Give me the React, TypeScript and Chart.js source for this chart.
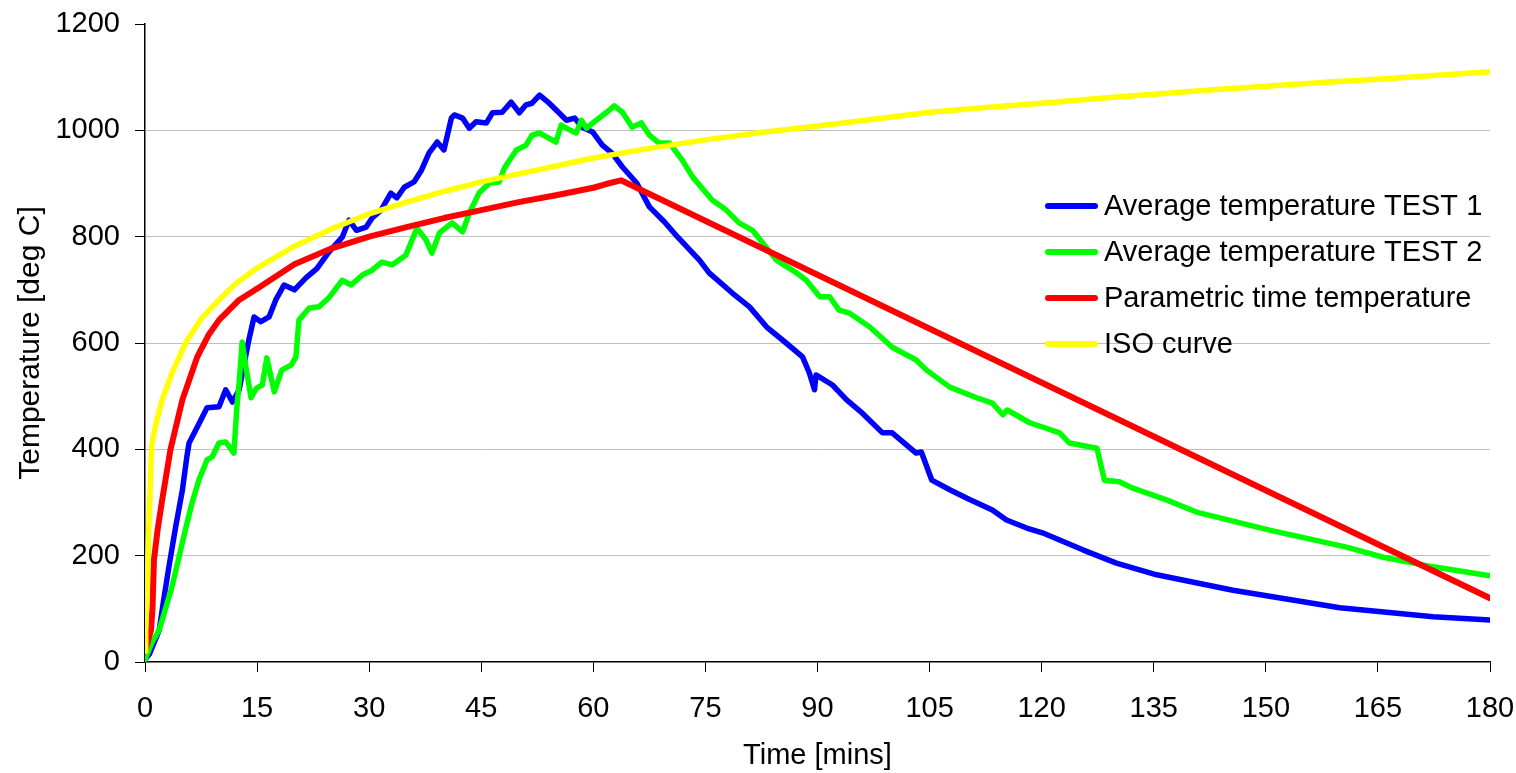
import React, { useEffect, useRef } from "react";
import { Chart, registerables } from "chart.js";

Chart.register(...registerables);

const xTicks = [0, 15, 30, 45, 60, 75, 90, 105, 120, 135, 150, 165, 180];
const yTicks = [0, 200, 400, 600, 800, 1000, 1200];

const seriesLabels = [
  "Average temperature TEST 1",
  "Average temperature TEST 2",
  "Parametric time temperature",
  "ISO curve",
];
const seriesColors = ["#0000ff", "#00ff00", "#ff0000", "#ffff00"];

const test1Time = [
  0, 0.6, 1.2, 1.9, 2.5, 3.2, 4.1, 5.0, 5.6, 5.9, 7.0, 8.3, 9.9, 10.8, 11.7, 12.6, 13.9, 14.6, 15.5, 16.6,
  17.5, 18.6, 20.0, 21.5, 23.0, 24.6, 26.4, 27.3, 28.3, 29.6, 30.4, 31.6, 32.9, 33.7, 34.7, 36.0, 37.0, 38.0,
  39.1, 40.0, 41.0, 41.4, 42.5, 43.4, 44.3, 45.7, 46.5, 47.8, 49.0, 50.1, 51.0, 51.8, 52.8, 54.1, 55.4, 56.4,
  57.5, 58.5, 59.9, 61.2, 62.5, 63.9, 65.8, 67.5, 69.5, 71.3, 74.2, 75.5, 78.6, 80.9, 83.2, 85.8, 88.0, 88.9,
  89.6, 89.8, 92.0, 93.9, 96.0, 98.7, 100.0, 103.2, 103.9, 105.3, 107.7, 110.0, 113.4, 115.3, 118.0, 120.1,
  125.5, 130.0, 135.4, 145.6, 159.9, 172.4, 180.0,
];
const test1Temp = [
  5, 15, 36, 60, 117, 179, 254, 323, 386, 412, 442, 478, 480, 512, 489, 512, 606, 649, 640, 649,
  681, 709, 700, 722, 740, 771, 799, 831, 812, 818, 835, 850, 882, 873, 893, 903, 925, 957,
  978, 963, 1023, 1029, 1023, 1004, 1016, 1014, 1033, 1034, 1053, 1033, 1048, 1051, 1066, 1051, 1033, 1019,
  1023, 1006, 997, 972, 957, 931, 901, 856, 828, 799, 756, 732, 694, 668, 630, 600, 574, 544,
  512, 540, 521, 493, 468, 431, 431, 393, 395, 342, 324, 308, 286, 267, 252, 243,
  211, 186, 164, 135, 102, 85, 79,
];

const test2Time = [
  0, 0.9, 1.9, 3.6, 5.5, 6.3, 7.2, 8.3, 9.0, 9.9, 10.8, 11.9, 12.3, 12.6, 13.0, 13.5, 14.2, 14.9, 15.7, 16.3,
  17.3, 18.3, 19.6, 20.2, 20.6, 22.0, 23.3, 24.6, 26.4, 27.6, 29.1, 30.4, 31.7, 33.1, 34.9, 36.4, 37.6, 38.4,
  39.4, 41.1, 42.5, 43.4, 44.7, 46.1, 47.4, 48.1, 49.7, 51.0, 51.8, 52.8, 54.1, 55.0, 55.7, 56.8, 57.7, 58.4,
  59.1, 60.4, 61.7, 62.8, 63.9, 65.2, 66.4, 67.5, 68.8, 70.2, 71.9, 73.3, 75.9, 77.8, 79.5, 81.3, 84.5, 87.2,
  88.5, 90.3, 91.6, 92.9, 94.3, 97.0, 100.0, 103.2, 104.6, 107.7, 111.3, 113.4, 114.8, 115.4, 118.4, 120.1,
  122.4, 123.7, 127.4, 128.4, 130.4, 132.2, 136.7, 140.7, 150.5, 160.8, 165.7, 172.4, 180.0,
];
const test2Temp = [
  5, 36, 60, 141, 254, 299, 342, 380, 386, 412, 414, 393, 480, 525, 602, 555, 497, 515, 521, 572,
  508, 549, 559, 574, 643, 666, 668, 685, 718, 709, 728, 737, 752, 747, 765, 816, 794, 769,
  807, 826, 809, 844, 882, 901, 903, 929, 963, 972, 991, 995, 985, 978, 1010, 1001, 995, 1019,
  1004, 1019, 1033, 1046, 1034, 1006, 1014, 991, 976, 976, 944, 912, 869, 850, 826, 812, 756, 732,
  718, 687, 687, 662, 656, 630, 592, 568, 549, 517, 497, 487, 465, 474, 450, 442,
  431, 412, 402, 342, 339, 327, 305, 282, 248, 216, 197, 179, 162,
];

const paramTime = [
  0, 0.8, 1.0, 1.2, 1.7, 2.3, 3.4, 5.0, 7.0, 8.5, 9.9, 12.6, 15.3, 20, 25, 30, 35, 40, 45, 50, 55, 60,
  61.7, 63.7, 180,
];
const paramTemp = [
  20, 60, 100, 192, 250, 305, 399, 493, 574, 615, 643, 681, 705, 748, 778, 800, 818, 835, 850, 865, 878, 892,
  899, 906, 120,
];

const isoTime = [
  0, 0.1, 0.5, 0.9, 1.5, 2.3, 3.6, 5.5, 7.6, 9.9, 12, 15, 20, 25, 30, 35, 40, 45, 50, 55, 60, 67.5, 75, 82.5,
  90, 97.5, 105, 112.5, 120, 127.5, 135, 142.5, 150, 157.5, 165, 172.5, 180,
];
const isoTemp = [
  20, 60, 250, 408, 450, 493, 543, 602, 647, 681, 710, 741, 782, 815, 843, 865, 885, 903, 918, 933, 948, 966,
  982, 996, 1008, 1021, 1034, 1043, 1051, 1060, 1068, 1076, 1083, 1090, 1096, 1103, 1110,
];

const FONT = '"Liberation Sans", Arial, sans-serif';

function pts(t: number[], v: number[]) {
  return t.map((x, i) => ({ x, y: v[i] }));
}

const insideLegend = {
  id: "insideLegend",
  afterDraw(chart: any) {
    const ctx = chart.ctx;
    ctx.save();
    ctx.font = `29px ${FONT}`;
    ctx.textBaseline = "middle";
    ctx.textAlign = "left";
    chart.data.datasets.forEach((ds: any, i: number) => {
      const y = 206 + i * 46;
      ctx.strokeStyle = ds.borderColor;
      ctx.lineWidth = 6;
      ctx.lineCap = "round";
      ctx.beginPath();
      ctx.moveTo(1048, y);
      ctx.lineTo(1095, y);
      ctx.stroke();
      ctx.fillStyle = "#000";
      ctx.fillText(ds.label, 1104, y + 1);
    });
    ctx.restore();
  },
};

export default function App() {
  const ref = useRef<HTMLCanvasElement>(null);

  useEffect(() => {
    if (!ref.current) return;
    const series = [
      pts(test1Time, test1Temp),
      pts(test2Time, test2Temp),
      pts(paramTime, paramTemp),
      pts(isoTime, isoTemp),
    ];
    const drawOrder = [3, 2, 1, 0];
    const chart = new Chart(ref.current, {
      type: "line",
      data: {
        datasets: series.map((d, i) => ({
          label: seriesLabels[i],
          data: d,
          borderColor: seriesColors[i],
          backgroundColor: seriesColors[i],
          borderWidth: i === 2 ? 6 : 5.5,
          pointRadius: 0,
          tension: 0,
          fill: false,
          order: drawOrder[i],
          borderJoinStyle: "round" as const,
          borderCapStyle: "round" as const,
        })),
      },
      options: {
        responsive: false,
        animation: false,
        layout: { padding: { top: 24, right: 26, left: 0, bottom: 0 } },
        plugins: {
          legend: { display: false },
          tooltip: { enabled: false },
        },
        scales: {
          x: {
            type: "linear",
            min: 0,
            max: 180,
            afterFit: (s: any) => {
              s.height = 111;
              s.paddingLeft = 0;
              s.paddingRight = 0;
            },
            afterBuildTicks: (s: any) => {
              s.ticks = xTicks.map((v) => ({ value: v }));
            },
            ticks: {
              font: { family: FONT, size: 29 },
              color: "#000",
              padding: 20,
              maxRotation: 0,
              autoSkip: false,
              callback: (v: any) => String(v),
            },
            grid: {
              drawOnChartArea: false,
              drawTicks: true,
              tickLength: 10,
              tickColor: "#000",
              color: "#000",
            },
            border: { display: true, color: "#000", width: 1.5 },
            title: {
              display: true,
              text: "Time [mins]",
              font: { family: FONT, size: 29 },
              color: "#000",
              padding: { top: 0, bottom: 0 },
            },
          },
          y: {
            type: "linear",
            min: 0,
            max: 1200,
            afterFit: (s: any) => {
              s.width = 145;
              s.paddingTop = 0;
              s.paddingBottom = 0;
            },
            afterBuildTicks: (s: any) => {
              s.ticks = yTicks.map((v) => ({ value: v }));
            },
            ticks: {
              font: { family: FONT, size: 29 },
              color: "#000",
              padding: 15,
              autoSkip: false,
              callback: (v: any) => String(v),
            },
            grid: {
              drawTicks: true,
              tickLength: 10,
              tickColor: "#000",
              lineWidth: 1,
              color: (c: any) =>
                c.tick && (c.tick.value === 0 || c.tick.value === 1200) ? "rgba(0,0,0,0)" : "#c0c0c0",
            },
            border: { display: true, color: "#000", width: 1.5 },
            title: {
              display: true,
              text: "Temperature [deg C]",
              font: { family: FONT, size: 30 },
              color: "#000",
              padding: { top: 13, bottom: 0 },
            },
          },
        },
      },
      plugins: [insideLegend],
    });
    return () => chart.destroy();
  }, []);

  return (
    <div style={{ position: "absolute", left: 0, top: 0, width: 1516, height: 773, background: "#fff" }}>
      <canvas ref={ref} width={1516} height={773} style={{ display: "block", width: 1516, height: 773 }} />
    </div>
  );
}
